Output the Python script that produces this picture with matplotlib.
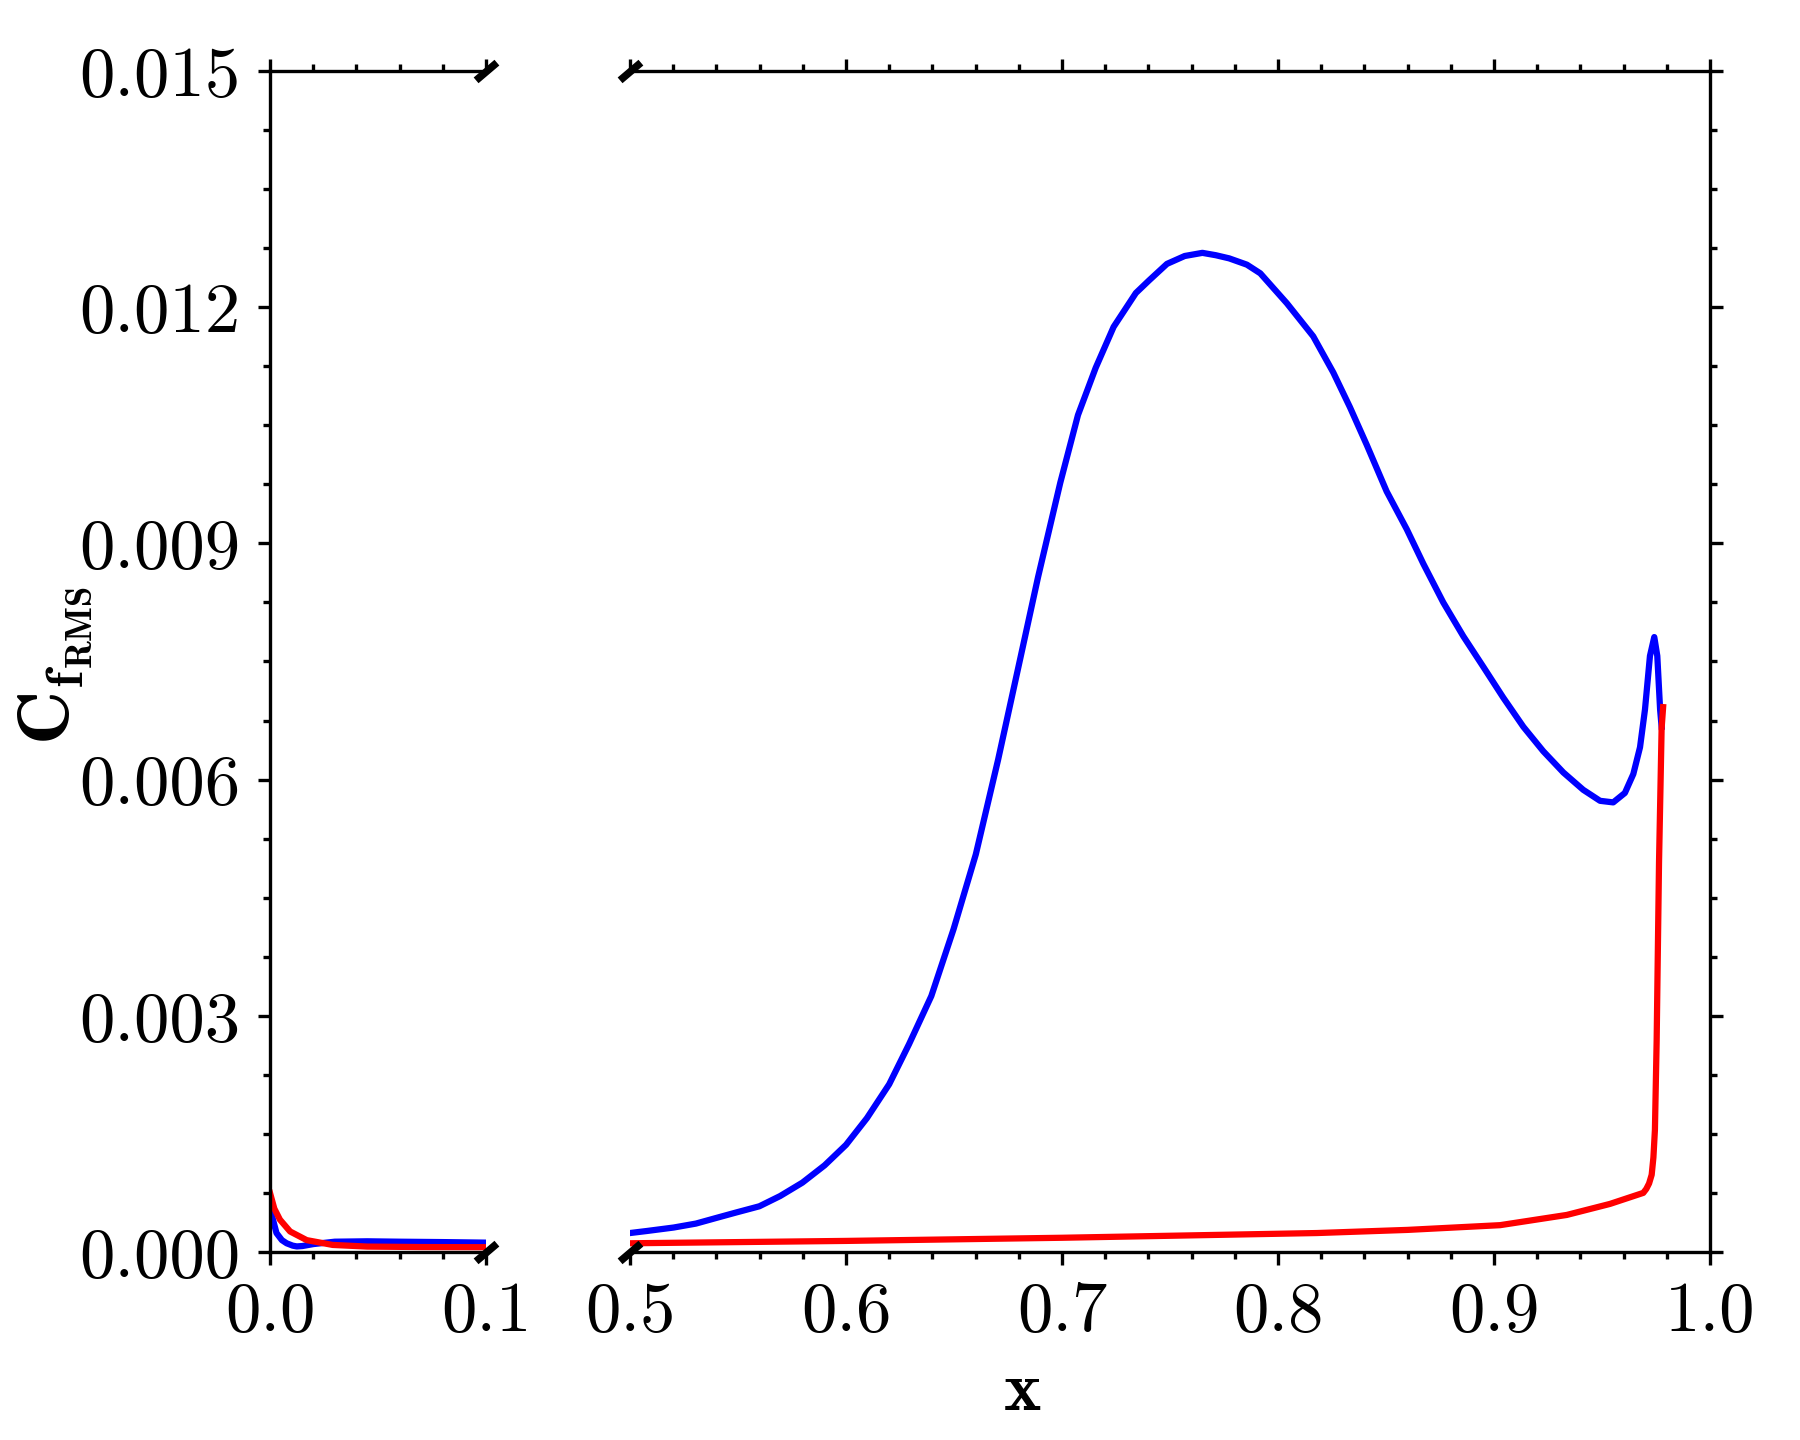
import numpy as np
import matplotlib
matplotlib.use('Agg')
import matplotlib.pyplot as plt
from matplotlib.ticker import MultipleLocator, FormatStrFormatter

# left segment (0 - 0.1)
x_blue_l = [0.0, 0.001, 0.003, 0.0055, 0.0077, 0.0105, 0.0124, 0.015, 0.0201, 0.03, 0.045, 0.06, 0.08, 0.1]
y_blue_l = [0.00062, 0.00045, 0.00024, 0.00015, 0.00011, 0.00008, 0.00007, 0.000075, 0.0001, 0.00013,
            0.000135, 0.00013, 0.000125, 0.000118]
x_red_l = [0.0, 0.002, 0.0046, 0.0093, 0.017, 0.029, 0.045, 0.07, 0.1]
y_red_l = [0.00075, 0.00055, 0.00041, 0.00026, 0.00015, 0.000089, 0.000068, 0.000062, 0.00006]

# right segment (0.5 - 1.0)
x_blue_r = [0.5, 0.5078, 0.5202, 0.5305, 0.5397, 0.549, 0.5599, 0.5695, 0.5798, 0.5901, 0.6, 0.6097,
            0.62, 0.6292, 0.6395, 0.6498, 0.6601, 0.6704, 0.6807, 0.6889, 0.6992, 0.7074, 0.7156,
            0.7239, 0.7342, 0.7403, 0.7486, 0.7568, 0.765, 0.7712, 0.7774, 0.7856, 0.7918, 0.8041,
            0.8163, 0.8256, 0.8333, 0.8411, 0.8503, 0.8596, 0.8673, 0.8765, 0.8858, 0.8951, 0.9043,
            0.9136, 0.9228, 0.9321, 0.9413, 0.9491, 0.9552, 0.9606, 0.9645, 0.9676, 0.9699, 0.9722,
            0.9742, 0.9756, 0.9769, 0.9776]
y_blue_r = [0.00024, 0.000266, 0.00031, 0.00036, 0.00043, 0.0005, 0.00058, 0.00071, 0.00088, 0.0011,
            0.00136, 0.0017, 0.00213, 0.00264, 0.00325, 0.0041, 0.00505, 0.00625, 0.00754, 0.00857,
            0.00977, 0.01063, 0.01123, 0.01175, 0.01218, 0.01234, 0.01255, 0.01265, 0.01269, 0.01266,
            0.01262, 0.01254, 0.01243, 0.01205, 0.01163, 0.01117, 0.01073, 0.01025, 0.00966, 0.00918,
            0.00874, 0.00825, 0.00782, 0.00743, 0.00704, 0.00667, 0.00636, 0.00609, 0.00587, 0.00573,
            0.00571, 0.00583, 0.00607, 0.00641, 0.00689, 0.00757, 0.00781, 0.00757, 0.00689, 0.00667]
x_red_r = [0.5, 0.6, 0.7, 0.818, 0.86, 0.9028, 0.9337, 0.9537, 0.9691, 0.9705, 0.9718, 0.973,
           0.9738, 0.9745, 0.9753, 0.9764, 0.9776, 0.9783]
y_red_r = [0.00011, 0.00014, 0.00018, 0.00024, 0.00028, 0.00034, 0.00047, 0.00061, 0.00075, 0.0008,
           0.00087, 0.00098, 0.0012, 0.00155, 0.00268, 0.00495, 0.00665, 0.00692]

plt.rcParams['font.family'] = 'serif'
plt.rcParams['font.serif'] = ['cmr10']
plt.rcParams['mathtext.fontset'] = 'cm'
plt.rcParams['axes.unicode_minus'] = False
plt.rcParams['font.size'] = 17


def style_axis(ax):
    ax.tick_params(which='both', direction='out', width=0.8, labelsize=17)
    ax.tick_params(which='major', length=3.0, pad=4)
    ax.tick_params(which='minor', length=1.6)
    for sp in ax.spines.values():
        sp.set_linewidth(0.8)
    ax.yaxis.set_major_locator(MultipleLocator(0.003))
    ax.yaxis.set_minor_locator(MultipleLocator(0.00075))
    ax.xaxis.set_minor_locator(MultipleLocator(0.02))
    ax.xaxis.set_major_formatter(FormatStrFormatter('%.1f'))
    ax.yaxis.set_major_formatter(FormatStrFormatter('%.3f'))
    ax.set_ylim(0, 0.015)


def main():
    fig = plt.figure(figsize=(6, 4.8), dpi=300)
    ax1 = fig.add_axes([0.15, 0.1306, 0.12, 0.8201])
    ax2 = fig.add_axes([0.35, 0.1306, 0.60, 0.8201])

    ax1.plot(x_blue_l, y_blue_l, color='blue', lw=1.5)
    ax1.plot(x_red_l, y_red_l, color='red', lw=1.5)
    ax2.plot(x_blue_r, y_blue_r, color='blue', lw=1.5)
    ax2.plot(x_red_r, y_red_r, color='red', lw=1.5)

    style_axis(ax1)
    style_axis(ax2)
    ax1.set_xlim(0, 0.1)
    ax2.set_xlim(0.5, 1.0)
    ax1.xaxis.set_major_locator(MultipleLocator(0.1))
    ax2.xaxis.set_major_locator(MultipleLocator(0.1))

    ax1.spines['right'].set_visible(False)
    ax2.spines['left'].set_visible(False)
    ax1.tick_params(which='both', top=True, right=False)
    ax2.tick_params(which='both', top=True, left=False, right=True,
                    labelleft=False, labelright=False)

    # break marks
    mk = dict(marker=[(-1, -0.85), (1, 0.85)], markersize=5, linestyle='none',
              color='k', mec='k', mew=1.8, clip_on=False)
    ax1.plot([1, 1], [0, 1], transform=ax1.transAxes, **mk)
    ax2.plot([0, 0], [0, 1], transform=ax2.transAxes, **mk)

    fig.text(0.568, 0.033, r'$\mathbf{x}$', ha='center', va='center', fontsize=17)
    fig.text(0.031, 0.538, r'$\mathbf{C_{f_{RMS}}}$', ha='center', va='center',
             rotation=90, fontsize=18)

    fig.savefig('out.png', dpi=300)


if __name__ == '__main__':
    main()
